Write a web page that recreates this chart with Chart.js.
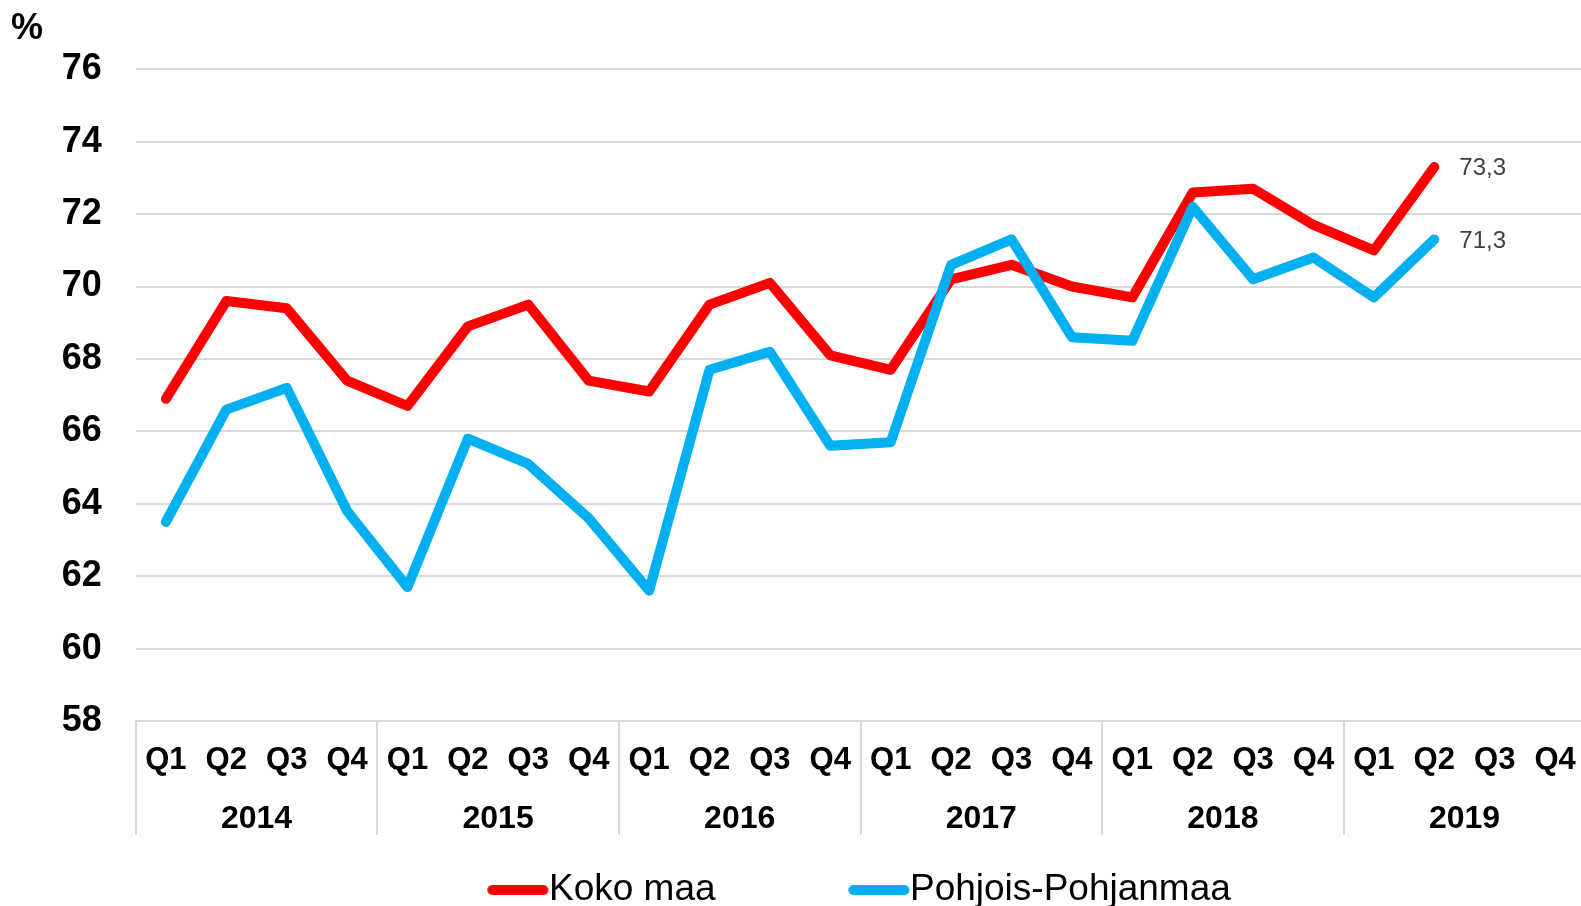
<!DOCTYPE html>
<html>
<head>
<meta charset="utf-8">
<script src="https://cdn.jsdelivr.net/npm/chart.js@4.4.1/dist/chart.umd.min.js"></script>
<style>
html,body{margin:0;padding:0;background:#fff;overflow:hidden}
#wrap{width:1581px;height:906px;overflow:hidden;position:relative;background:#fff}
canvas{display:block}
</style>
</head>
<body>
<div id="wrap"><canvas id="c" width="1600" height="920"></canvas></div>
<script>
const quarterLabels = ['Q1','Q2','Q3','Q4','Q1','Q2','Q3','Q4','Q1','Q2','Q3','Q4',
                       'Q1','Q2','Q3','Q4','Q1','Q2','Q3','Q4','Q1','Q2','Q3','Q4'];
const yearLabels = ['2014','2015','2016','2017','2018','2019'];
const seriesNames = ['Koko maa','Pohjois-Pohjanmaa'];
const kokoMaa = [66.9, 69.6, 69.4, 67.4, 66.7, 68.9, 69.5, 67.4, 67.1, 69.5, 70.1, 68.1,
                 67.7, 70.2, 70.6, 70.0, 69.7, 72.6, 72.7, 71.7, 71.0, 73.3, null, null];
const pohjoisPohjanmaa = [63.5, 66.6, 67.2, 63.8, 61.7, 65.8, 65.1, 63.6, 61.6, 67.7, 68.2, 65.6,
                          65.7, 70.6, 71.3, 68.6, 68.5, 72.2, 70.2, 70.8, 69.7, 71.3, null, null];
const yMin = 58, yMax = 76, yStep = 2;
const yUnit = '%';

const FONT = "'Liberation Sans', Arial, sans-serif";
const GRID = '#d9d9d9';
const RED = '#ff0000', BLUE = '#00b0f0';

// legend sample: thick rounded line (image used as legend point style)
function legendLine(color) {
  const c = document.createElement('canvas');
  c.width = 78; c.height = 12;
  const g = c.getContext('2d');
  g.strokeStyle = color; g.lineWidth = 10; g.lineCap = 'round';
  g.beginPath(); g.moveTo(21, 6); g.lineTo(72, 6); g.stroke();
  return c;
}

const valueLabels = {
  id: 'valueLabels',
  afterDatasetsDraw(chart) {
    const ctx = chart.ctx;
    ctx.save();
    ctx.font = '24px ' + FONT;
    ctx.fillStyle = '#404040';
    ctx.textAlign = 'left';
    ctx.textBaseline = 'middle';
    chart.data.datasets.forEach((ds, i) => {
      const meta = chart.getDatasetMeta(i);
      let last = -1;
      ds.data.forEach((v, j) => { if (v !== null && v !== undefined) last = j; });
      if (last < 0) return;
      const el = meta.data[last];
      ctx.fillText(ds.data[last].toFixed(1).replace('.', ','), el.x + 25, el.y + 1.5);
    });
    ctx.restore();
  }
};

const yearLineColor = c => (c.index !== undefined && c.index % 4 === 0) ? GRID : 'rgba(0,0,0,0)';
const noLabelClip = s => { s._computeLabelArea = () => undefined; };

new Chart(document.getElementById('c'), {
  type: 'line',
  data: {
    labels: quarterLabels,
    datasets: [
      { label: seriesNames[0], data: kokoMaa, borderColor: RED, backgroundColor: RED,
        borderWidth: 10, pointRadius: 0, pointStyle: legendLine(RED),
        borderCapStyle: 'round', borderJoinStyle: 'round', tension: 0, order: 1 },
      { label: seriesNames[1], data: pohjoisPohjanmaa, borderColor: BLUE, backgroundColor: BLUE,
        borderWidth: 10, pointRadius: 0, pointStyle: legendLine(BLUE),
        borderCapStyle: 'round', borderJoinStyle: 'round', tension: 0, order: 0 }
    ]
  },
  options: {
    responsive: false,
    animation: false,
    devicePixelRatio: 1,
    layout: { padding: { left: 11, right: 14.7, top: 0, bottom: 1.5 } },
    plugins: {
      title: { display: true, text: yUnit, align: 'start', position: 'top', color: '#000',
               font: { family: FONT, size: 36, weight: 'bold' }, padding: { top: 7.4, bottom: 18.7 } },
      legend: {
        position: 'bottom', fullSize: false,
        labels: { usePointStyle: true, pointStyleWidth: 40.3, boxHeight: 10,
                  padding: 135.6, color: '#000', font: { family: FONT, size: 37 },
                  sort: (a, b) => a.datasetIndex - b.datasetIndex }
      },
      tooltip: { enabled: false }
    },
    scales: {
      x: {
        type: 'category', position: 'bottom', offset: true, weight: 0,
        grid: { display: true, drawOnChartArea: false, drawTicks: true, tickLength: 114, offset: true,
                lineWidth: 2, color: yearLineColor, tickColor: yearLineColor },
        border: { display: true, color: GRID, width: 2 },
        ticks: { autoSkip: false, maxRotation: 0, minRotation: 0, padding: -93.6, color: '#000',
                 font: { family: FONT, size: 31, weight: 'bold' } },
        afterFit: s => { s.height = 10; noLabelClip(s); }
      },
      x2: {
        type: 'category', labels: yearLabels, position: 'bottom', offset: true, weight: 1,
        grid: { display: false }, border: { display: false },
        ticks: { autoSkip: false, maxRotation: 0, minRotation: 0, padding: 61.3, color: '#000',
                 font: { family: FONT, size: 32, weight: 'bold' } },
        afterFit: s => { s.height = 4.9; noLabelClip(s); }
      },
      y: {
        min: yMin, max: yMax,
        ticks: { stepSize: yStep, padding: 34, color: '#000', font: { family: FONT, size: 36, weight: 'bold' } },
        grid: { color: GRID, lineWidth: 2, drawTicks: false },
        border: { display: false },
        afterFit: s => { s.width = 124.7; }
      }
    }
  },
  plugins: [valueLabels]
});
</script>
</body>
</html>
